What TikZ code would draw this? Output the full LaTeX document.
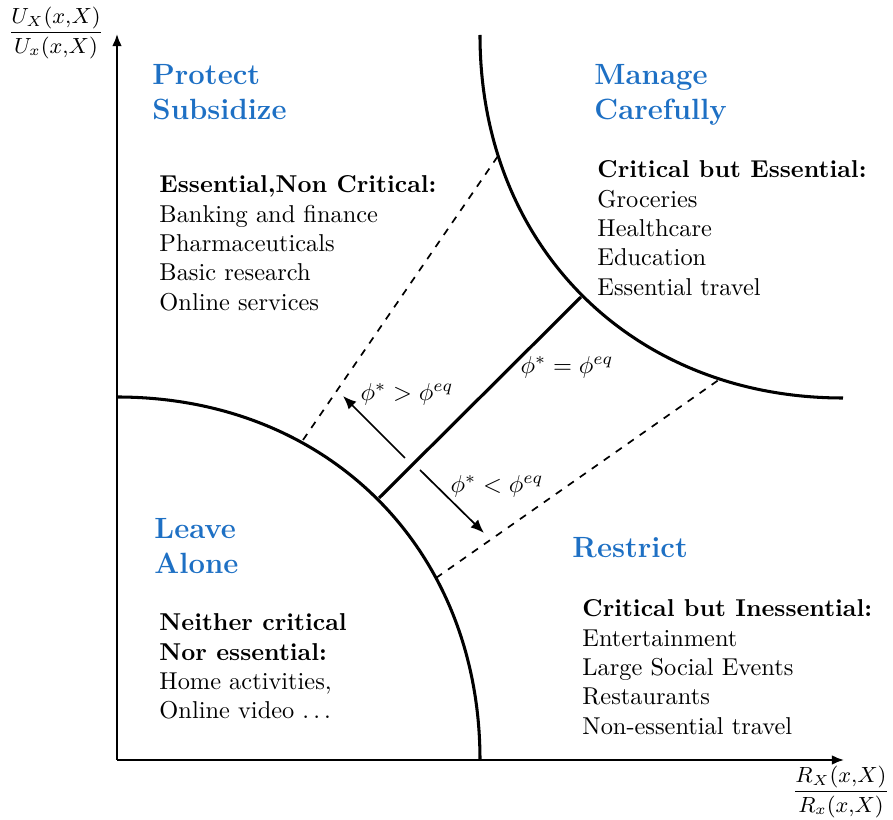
\documentclass[tikz,border=0pt]{standalone}
\usepackage{amsmath}
\usetikzlibrary{arrows.meta}
\definecolor{headblue}{RGB}{30,112,196}
\begin{document}
\begin{tikzpicture}[x=0.41pt,y=0.41pt,
  axis/.style={line width=0.8pt,-{Latex[length=5pt,width=4pt]}},
  curve/.style={line width=1.25pt},
  eqline/.style={line width=1.3pt},
  bound/.style={line width=0.7pt,dashed},
  dirarrow/.style={line width=0.7pt,-{Latex[length=5.5pt,width=4.5pt]}},
  head/.style={anchor=base west,inner sep=0pt,text=headblue,font=\large\bfseries},
  body/.style={anchor=base west,inner sep=0pt},
  lab/.style={inner sep=0pt},
  axlab/.style={inner sep=0pt,font=\small}]
\useasboundingbox (0,0) rectangle (893,820);
% axes
\coordinate (O) at (117,60);
\coordinate (ytop) at (117,786);
\coordinate (xend) at (844,60);
\draw[axis] (O) -- (ytop);
\draw[axis] (O) -- (xend);
\node[axlab] (ylab) at (56,787) {$\dfrac{U_X(x{,}X)}{U_x(x{,}X)}$};
\node[axlab] (xlab) at (841,28) {$\dfrac{R_X(x{,}X)}{R_x(x{,}X)}$};
% curves
\coordinate (l1) at (117,423);
\coordinate (l2) at (480,60);
\coordinate (u1) at (480,785);
\coordinate (u2) at (843,422);
\draw[curve] (l1) .. controls (328,423) and (480,271) .. (l2);
\draw[curve] (u1) .. controls (480,574) and (632,422) .. (u2);
% equilibrium line
\coordinate (e1) at (379,322);
\coordinate (e2) at (581,523);
\draw[eqline] (e1) -- (e2);
% dashed boundaries
\coordinate (d1a) at (303,380);
\coordinate (d1b) at (498,664);
\coordinate (d2a) at (436,242);
\coordinate (d2b) at (720,441);
\draw[bound] (d1a) -- (d1b);
\draw[bound] (d2a) -- (d2b);
% direction arrows
\coordinate (a1s) at (405,362);
\coordinate (a1e) at (343,424);
\coordinate (a2s) at (420,350);
\coordinate (a2e) at (484,287);
\draw[dirarrow] (a1s) -- (a1e);
\draw[dirarrow] (a2s) -- (a2e);
\node[lab] (gt) at (407,426) {$\phi^* > \phi^{eq}$};
\node[lab] (eq) at (567,453) {$\phi^* = \phi^{eq}$};
\node[lab] (lt) at (497,334) {$\phi^* < \phi^{eq}$};
% headings
\node[head] (h1) at (152,735) {\begin{tabular}[t]{@{}l@{}}Protect\\Subsidize\end{tabular}};
\node[head] (h2) at (594,735) {\begin{tabular}[t]{@{}l@{}}Manage\\Carefully\end{tabular}};
\node[head] (h3) at (154,281) {\begin{tabular}[t]{@{}l@{}}Leave\\Alone\end{tabular}};
\node[head] (h4) at (572,262) {Restrict};
% bodies
\node[body] (b1) at (159,627) {\begin{tabular}[t]{@{}l@{}}\textbf{Essential,Non Critical:}\\Banking and finance\\Pharmaceuticals\\Basic research\\Online services\end{tabular}};
\node[body] (b2) at (597,642) {\begin{tabular}[t]{@{}l@{}}\textbf{Critical but Essential:}\\Groceries\\Healthcare\\Education\\Essential travel\end{tabular}};
\node[body] (b3) at (159,189) {\begin{tabular}[t]{@{}l@{}}\textbf{Neither critical}\\\textbf{Nor essential:}\\Home activities,\\Online video $\ldots$\end{tabular}};
\node[body] (b4) at (582,203) {\begin{tabular}[t]{@{}l@{}}\textbf{Critical but Inessential:}\\Entertainment\\Large Social Events\\Restaurants\\Non-essential travel\end{tabular}};
\end{tikzpicture}
\end{document}
